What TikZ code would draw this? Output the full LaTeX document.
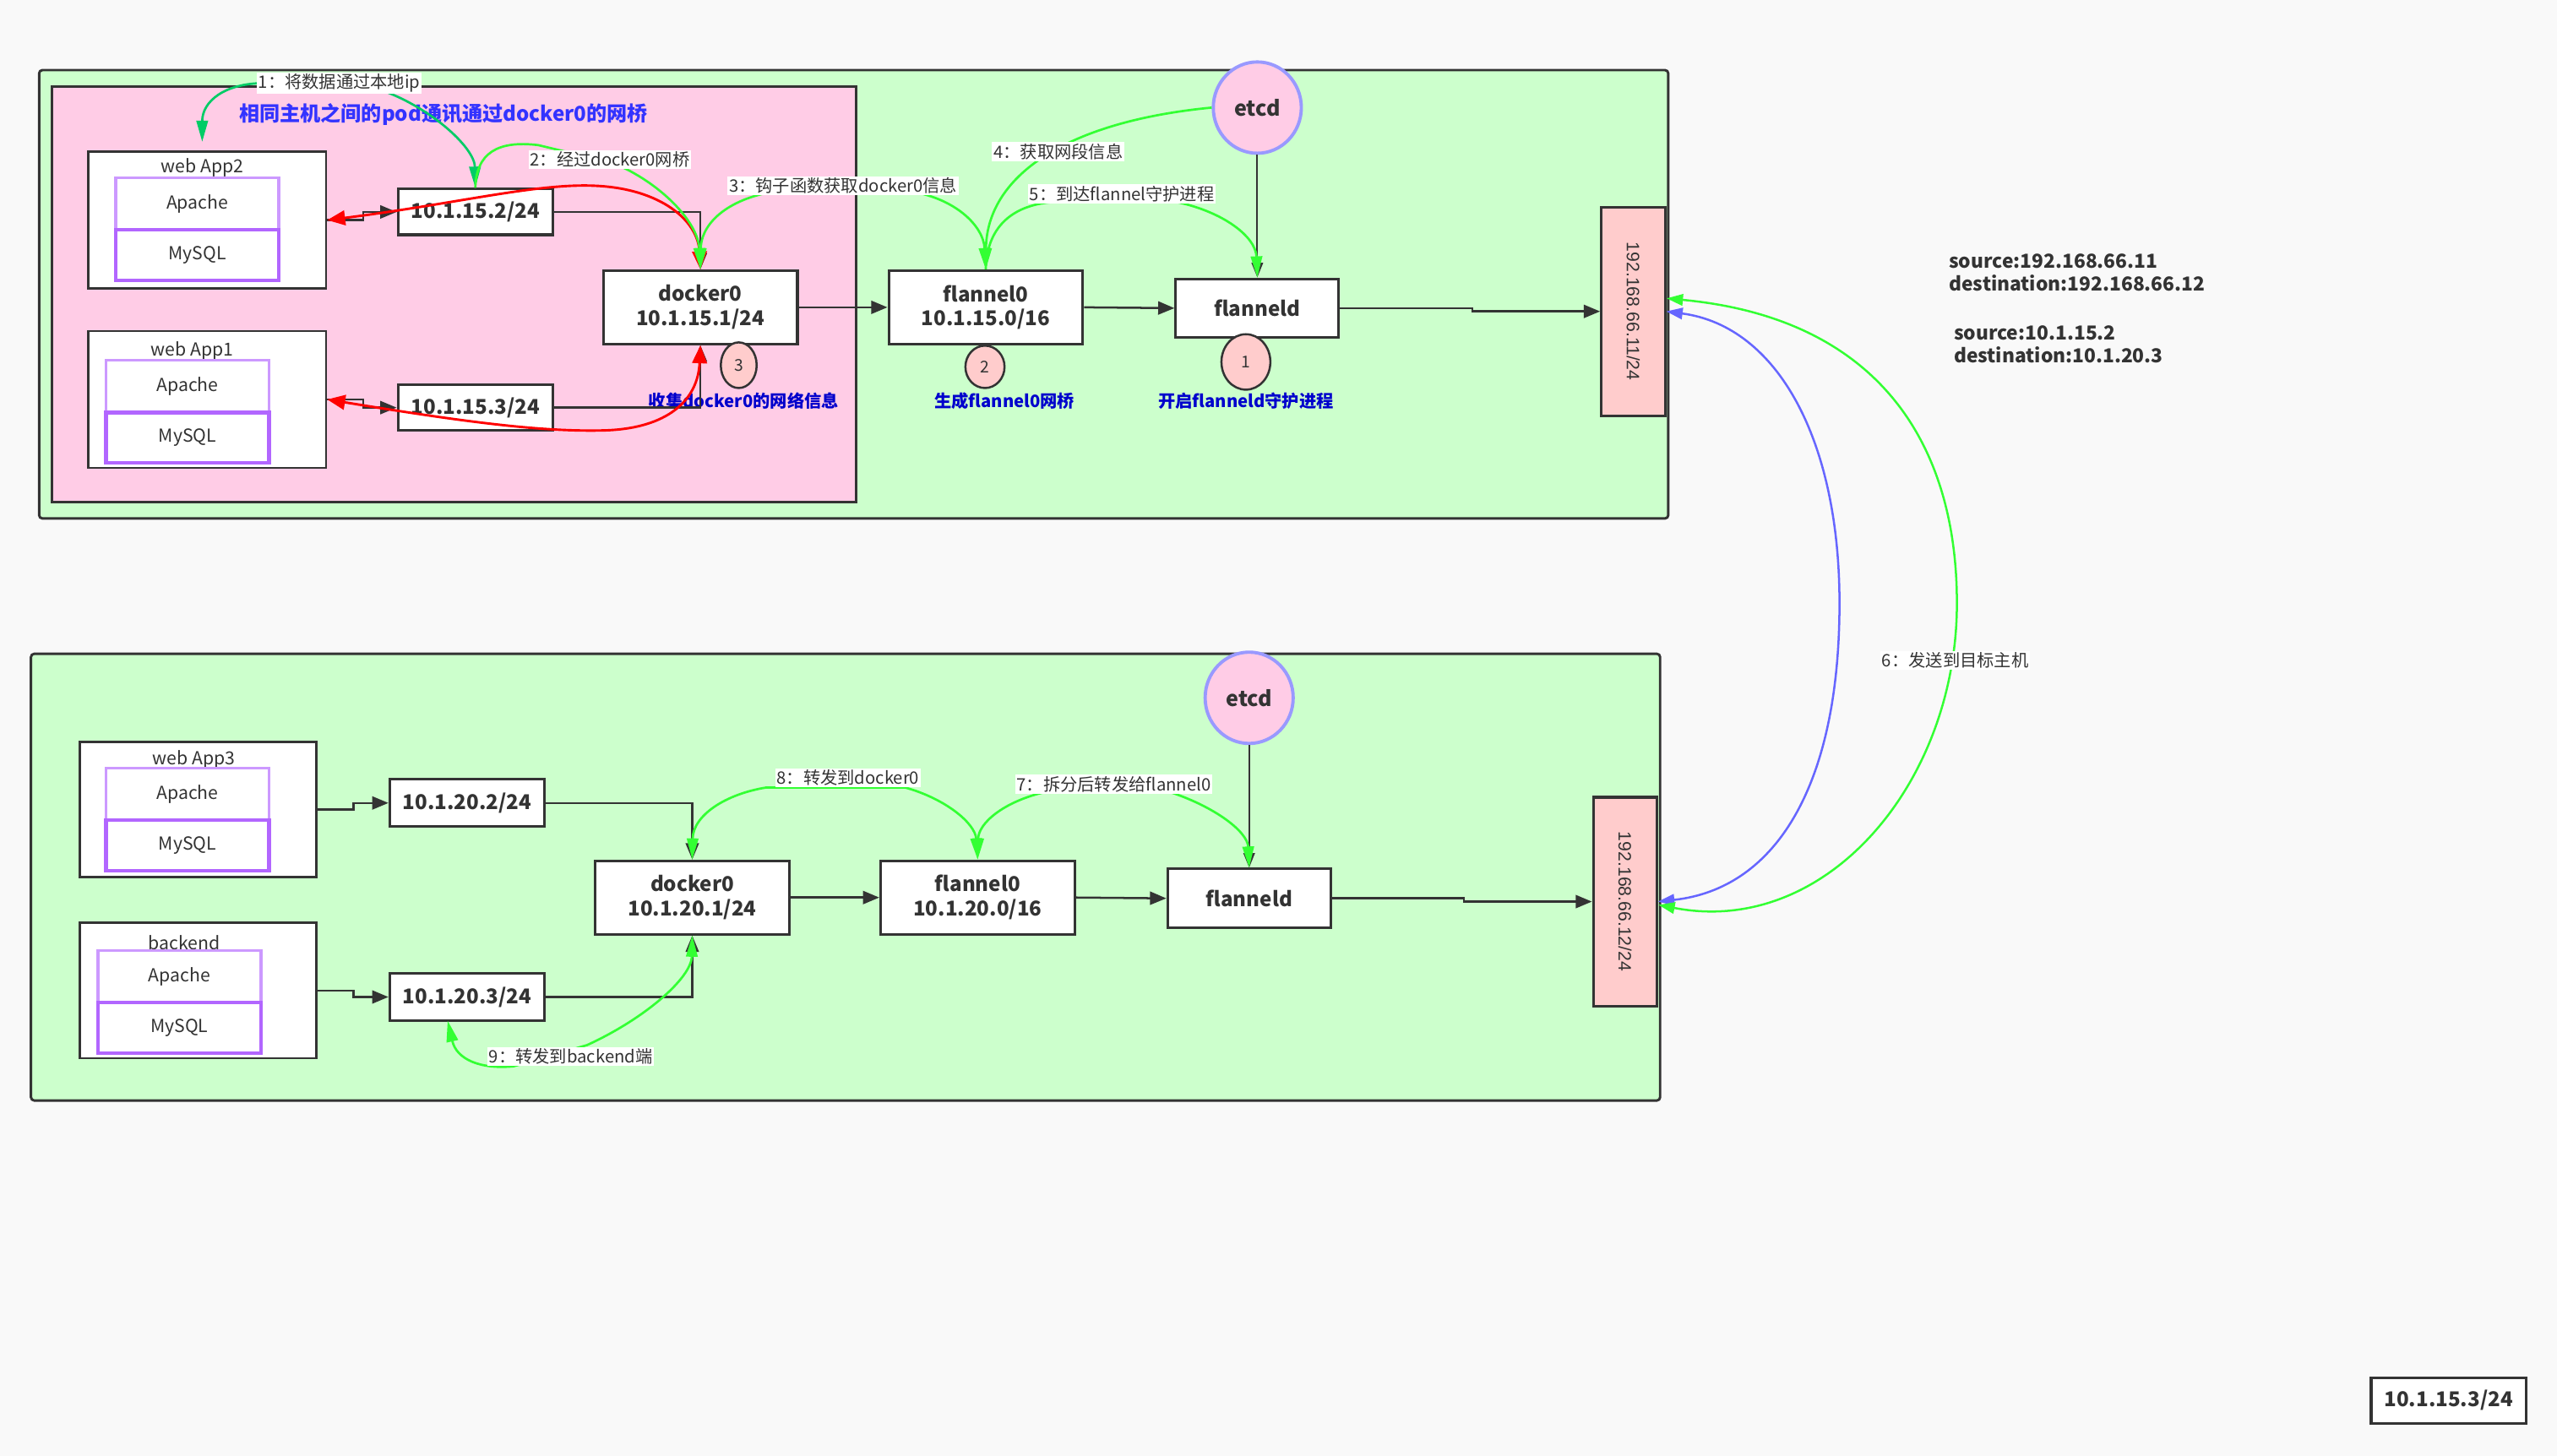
\documentclass[tikz,border=0pt]{standalone}
\usepackage{fontspec}
\setmainfont{Noto Sans CJK SC}
\newfontfamily\nicfont{Liberation Sans}
\usetikzlibrary{arrows.meta,shapes.geometric}
\definecolor{bgc}{HTML}{F9F9F9}
\definecolor{hostg}{HTML}{CCFFCC}
\definecolor{podpink}{HTML}{FFCCE6}
\definecolor{salmon}{HTML}{FFCCCC}
\definecolor{dk}{HTML}{333333}
\definecolor{lpurple}{HTML}{CC99FF}
\definecolor{dpurple}{HTML}{B266FF}
\definecolor{ggreen}{HTML}{33FF33}
\definecolor{dgreen}{HTML}{00CC66}
\definecolor{bluel}{HTML}{6666FF}
\definecolor{ebord}{HTML}{9999FF}
\definecolor{headblue}{HTML}{3333FF}
\definecolor{capblue}{HTML}{0000CC}
\tikzset{
  hostbg/.style={draw=dk, line width=1.5pt, fill=hostg, rounded corners=2pt},
  ipbox/.style={draw=dk, line width=1.6pt, fill=white, inner sep=0pt, text=dk, align=center,
    font=\bfseries\fontsize{12.5}{15}\selectfont},
  podbox/.style={draw=dk, line width=1.3pt, fill=white, inner sep=0pt},
  podtitle/.style={text=dk, inner sep=0pt, font=\fontsize{11}{12}\selectfont},
  apbox/.style={draw=lpurple, line width=1.8pt, fill=white, inner sep=0pt, text=dk,
    minimum width=100pt, minimum height=32pt, font=\fontsize{11}{12}\selectfont},
  dbbox/.style={draw=dpurple, line width=2.3pt, fill=white, inner sep=0pt, text=dk,
    minimum width=100pt, minimum height=31pt, font=\fontsize{11}{12}\selectfont},
  etcdnode/.style={ellipse, draw=ebord, line width=2pt, fill=podpink, inner sep=0pt,
    minimum width=54pt, minimum height=56pt, text=dk, font=\bfseries\fontsize{13}{15}\selectfont},
  numc/.style={ellipse, draw=dk, line width=1.3pt, fill=salmon, inner sep=0pt, text=dk,
    font=\fontsize{10}{11}\selectfont},
  capt/.style={text=capblue, inner sep=0pt, font=\bfseries\fontsize{10.5}{12}\selectfont},
  nicbox/.style={draw=dk, line width=1.6pt, fill=salmon, inner sep=0pt,
    minimum width=39pt, minimum height=128pt},
  nictext/.style={rotate=-90, text=dk, inner sep=0pt, font=\nicfont\fontsize{11}{12}\selectfont},
  conn/.style={draw=dk, line width=1.3pt, -{Triangle[length=10pt,width=8pt]}},
  thinconn/.style={draw=dk, line width=1pt, -{Triangle[length=9pt,width=7pt]}},
  garr/.style={draw=ggreen, line width=1.4pt},
  gtip/.style={-{Triangle[length=13pt,width=7pt]}},
  gtips/.style={{Triangle[length=13pt,width=7pt]}-{Triangle[length=13pt,width=7pt]}},
  rarr/.style={draw=red, line width=1.5pt, {Triangle[length=11pt,width=9pt]}-{Triangle[length=11pt,width=9pt]}},
  lbl/.style={fill=white, inner sep=1pt, text=dk, font=\fontsize{10.5}{12}\selectfont},
  infotext/.style={text=dk, inner sep=0pt, anchor=west, align=left,
    font=\bfseries\fontsize{11.8}{14}\selectfont}
}
\begin{document}
\begin{tikzpicture}[x=1pt,y=-1pt]
\fill[bgc] (0,0) rectangle (1568,893);
\useasboundingbox (0,0) rectangle (1568,893);

% ================= TOP HOST =================
\draw[hostbg] (24,43) rectangle (1023,318);
\draw[draw=dk, line width=1.5pt, fill=podpink] (32,53) rectangle (525,308);
\node[text=headblue, inner sep=0pt, font=\bfseries\fontsize{12.5}{14}\selectfont] (head) at (272,70) {相同主机之间的pod通讯通过docker0的网桥};

% pods
\node[podbox, minimum width=146pt, minimum height=84pt] (app2) at (127,135) {};
\node[podtitle] (app2t) at (124,103) {web App2};
\node[apbox] (ap2) at (121,125) {Apache};
\node[dbbox] (db2) at (121,156.5) {MySQL};

\node[podbox, minimum width=146pt, minimum height=84pt] (app1) at (127,245) {};
\node[podtitle] (app1t) at (118,215) {web App1};
\node[apbox] (ap1) at (115,237) {Apache};
\node[dbbox] (db1) at (115,268.5) {MySQL};

\node[ipbox, minimum width=95pt, minimum height=28pt] (ip2) at (291.5,130) {10.1.15.2/24};
\node[ipbox, minimum width=95pt, minimum height=28pt] (ip3) at (291.5,250) {10.1.15.3/24};
\node[ipbox, minimum width=119pt, minimum height=45pt] (dk1) at (429.5,188.5) {docker0\\10.1.15.1/24};
\node[ipbox, minimum width=119pt, minimum height=45pt] (fl1) at (604.5,188.5) {flannel0\\10.1.15.0/16};
\node[ipbox, minimum width=100pt, minimum height=36pt] (fd1) at (771,189) {flanneld};
\node[etcdnode] (etcd1) at (771,66) {etcd};
\node[nicbox] (nic1) at (1001.5,191) {};
\node[nictext] at (nic1) {192.168.66.11/24};

\node[numc, minimum width=22pt, minimum height=28pt] (c3) at (453,224) {3};
\node[numc, minimum width=24pt, minimum height=26pt] (c2) at (604,225) {2};
\node[numc, minimum width=30pt, minimum height=34pt] (c1) at (764,222) {1};
\node[capt] (cap3) at (456,246) {收集docker0的网络信息};
\node[capt] (cap2) at (616,246) {生成flannel0网桥};
\node[capt] (cap1) at (764,246) {开启flanneld守护进程};

% dark connectors
\draw[conn] (app2.east) -- ++(22,0) |- (ip2.west);
\draw[conn] (app1.east) -- ++(22,0) |- (ip3.west);
\draw[conn] (ip2.east) -| (dk1.north);
\draw[conn] (ip3.east) -| (dk1.south);
\draw[conn] (dk1.east) -- (fl1.west);
\draw[conn] (fl1.east) -- (fd1.west);
\draw[conn] (fd1.east) -- ++(81,0) |- (nic1.west);
\draw[thinconn] (etcd1.south) -- (fd1.north);

% red curves
\draw[rarr] (app2.east) .. controls (280,125) and (330,112) .. (366,114) .. controls (405,116) and (428,135) .. (dk1.north);
\draw[rarr] (app1.east) .. controls (280,258) and (330,265) .. (370,264) .. controls (410,263) and (428,245) .. (dk1.south);

% green curves top
\coordinate (app2arr) at (124,87);
\draw[draw=dgreen, line width=1.4pt, gtips] (app2arr) .. controls (124,62) and (138,51) .. (162,51) -- (230,54) .. controls (262,64) and (291,90) .. (ip2.north);
\node[lbl] (l1) at (208,51) {1：将数据通过本地ip};

\draw[garr, gtip] (ip2.north) .. controls (292,94) and (305,86) .. (330,89) -- (376,100) .. controls (405,112) and (428,136) .. (dk1.north);
\node[lbl] (l2) at (374,98) {2：经过docker0网桥};

\draw[garr, gtips] (dk1.north) .. controls (430,136) and (448,121) .. (478,117) -- (556,117) .. controls (585,121) and (603,138) .. (fl1.north);
\node[lbl] (l3) at (517,114) {3：钩子函数获取docker0信息};

\draw[garr, gtip] (etcd1.west) .. controls (650,75) and (605,110) .. (fl1.north);
\node[lbl] (l4) at (649,93) {4：获取网段信息};

\draw[garr, gtip] (fl1.north) .. controls (605,140) and (620,126) .. (645,124) -- (722,124) .. controls (750,130) and (770,145) .. (fd1.north);
\node[lbl] (l5) at (688,119) {5：到达flannel守护进程};

% ================= BOTTOM HOST =================
\draw[hostbg] (19,401) rectangle (1018,675);

\node[podbox, minimum width=145pt, minimum height=83pt] (app3) at (121.5,496.5) {};
\node[podtitle] (app3t) at (119,466) {web App3};
\node[apbox] (ap3) at (115,487) {Apache};
\node[dbbox] (db3) at (115,518.5) {MySQL};

\node[podbox, minimum width=145pt, minimum height=83pt] (bk) at (121.5,607.5) {};
\node[podtitle] (bkt) at (113,578) {backend};
\node[apbox] (ap4) at (110,599) {Apache};
\node[dbbox] (db4) at (110,630.5) {MySQL};

\node[ipbox, minimum width=95pt, minimum height=29pt] (ip4) at (286.5,492.5) {10.1.20.2/24};
\node[ipbox, minimum width=95pt, minimum height=29pt] (ip5) at (286.5,611.5) {10.1.20.3/24};
\node[ipbox, minimum width=119pt, minimum height=45pt] (dk2) at (424.5,550.5) {docker0\\10.1.20.1/24};
\node[ipbox, minimum width=119pt, minimum height=45pt] (fl2) at (599.5,550.5) {flannel0\\10.1.20.0/16};
\node[ipbox, minimum width=100pt, minimum height=36pt] (fd2) at (766,551) {flanneld};
\node[etcdnode] (etcd2) at (766,428) {etcd};
\node[nicbox] (nic2) at (996.5,553) {};
\node[nictext] at (nic2) {192.168.66.12/24};

\draw[conn] (app3.east) -- ++(22,0) |- (ip4.west);
\draw[conn] (bk.east) -- ++(22,0) |- (ip5.west);
\draw[conn] (ip4.east) -| (dk2.north);
\draw[conn] (ip5.east) -| (dk2.south);
\draw[conn] (dk2.east) -- (fl2.west);
\draw[conn] (fl2.east) -- (fd2.west);
\draw[conn] (fd2.east) -- ++(81,0) |- (nic2.west);
\draw[thinconn] (etcd2.south) -- (fd2.north);

\draw[garr, gtips] (dk2.north) .. controls (425,500) and (445,487) .. (470,483) -- (555,483) .. controls (580,490) and (598,505) .. (fl2.north);
\node[lbl] (l8) at (520,477) {8：转发到docker0};

\draw[garr, gtips] (fl2.north) .. controls (600,505) and (615,492) .. (640,486) -- (718,486) .. controls (745,495) and (765,510) .. (fd2.north);
\node[lbl] (l7) at (683,481) {7：拆分后转发给flannel0};

\coordinate (ip5arr) at (274.5,626);
\draw[garr, gtips] (ip5arr) .. controls (280,650) and (295,656) .. (315,654) -- (360,641) .. controls (395,625) and (424,600) .. (dk2.south);
\node[lbl] (l9) at (350,648) {9：转发到backend端};

% ================= BETWEEN HOSTS =================
\draw[draw=bluel, line width=1.3pt, {Triangle[length=10pt,width=7pt]}-{Triangle[length=10pt,width=7pt]}]
  (nic2.east) .. controls (1090,545) and (1128,480) .. (1128,370) .. controls (1128,270) and (1090,200) .. (nic1.east);
\coordinate (nic1g) at (1022,183);
\coordinate (nic2g) at (1017,555);
\draw[draw=ggreen, line width=1.3pt, {Triangle[length=10pt,width=7pt]}-{Triangle[length=10pt,width=7pt]}]
  (nic1g) .. controls (1150,195) and (1200,270) .. (1200,370) .. controls (1200,480) and (1120,575) .. (nic2g);
\node[lbl] (l6) at (1199,405) {6：发送到目标主机};

\node[infotext] (src1) at (1195,167) {source:192.168.66.11\\destination:192.168.66.12};
\node[infotext] (src2) at (1198,211) {source:10.1.15.2\\destination:10.1.20.3};

% bottom-right box
\node[ipbox, minimum width=95pt, minimum height=28pt] (lone) at (1501.5,859) {10.1.15.3/24};
\end{tikzpicture}
\end{document}
